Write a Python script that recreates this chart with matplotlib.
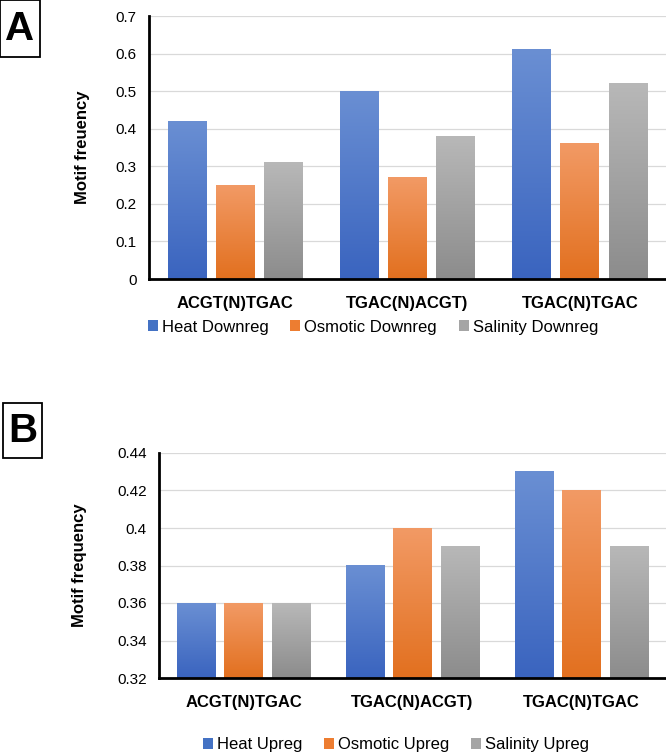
import matplotlib
matplotlib.use('Agg')
import matplotlib.pyplot as plt
from matplotlib.patches import Patch, Rectangle
from matplotlib.colors import LinearSegmentedColormap
from matplotlib.ticker import FuncFormatter
import numpy as np

plt.rcParams['font.family'] = ['Liberation Sans', 'DejaVu Sans']

# Daten
motifs = ['ACGT(N)TGAC', 'TGAC(N)ACGT)', 'TGAC(N)TGAC']
heat_down = [0.42, 0.50, 0.61]
osmotic_down = [0.25, 0.27, 0.36]
salinity_down = [0.31, 0.38, 0.52]
labels_down = ['Heat Downreg', 'Osmotic Downreg', 'Salinity Downreg']

heat_up = [0.36, 0.38, 0.43]
osmotic_up = [0.36, 0.40, 0.42]
salinity_up = [0.36, 0.39, 0.39]
labels_up = ['Heat Upreg', 'Osmotic Upreg', 'Salinity Upreg']

# Farben: (oben hell, unten dunkel), Legende
grad_cols = [('#6a8fd3', '#3a64bf'), ('#f29a65', '#e2701f'), ('#b8b8b8', '#8c8c8c')]
leg_cols = ['#4472c4', '#ed7d31', '#a5a5a5']

W, H = 666, 755
fig = plt.figure(figsize=(6.66, 7.55), dpi=100)


def gradient_bars(ax, x, vals, cols, ymin):
    bars = ax.bar(x, vals, width=0.225, color='none', edgecolor='none', zorder=2)
    cmap = LinearSegmentedColormap.from_list('g', [cols[1], cols[0]])
    grad = np.linspace(0, 1, 256).reshape(-1, 1)
    for b in bars:
        x0 = b.get_x()
        x1 = x0 + b.get_width()
        y1 = b.get_height()
        ax.imshow(grad, extent=[x0, x1, ymin, y1], origin='lower', aspect='auto',
                  cmap=cmap, zorder=2, clip_path=b, interpolation='bicubic')


def panel(rect, series, ylim, step, ylabel, lblx):
    ax = fig.add_axes(rect)
    x = np.arange(len(motifs))
    off = 0.28
    for i, (vals, cols) in enumerate(zip(series, grad_cols)):
        gradient_bars(ax, x + (i - 1) * off, vals, cols, ylim[0])
    ax.set_xlim(-0.5, 2.5)
    ax.set_ylim(*ylim)
    ax.set_yticks(np.arange(ylim[0], ylim[1] + step / 2, step))
    ax.yaxis.set_major_formatter(FuncFormatter(lambda v, p: '%g' % round(v, 3)))
    ax.set_xticks(x)
    ax.set_xticklabels(motifs, fontsize=12, fontweight='bold')
    ax.tick_params(axis='x', length=0, pad=12)
    ax.tick_params(axis='y', length=0, pad=9, labelsize=11)
    ax.grid(axis='y', color='#d9d9d9', lw=0.9)
    ax.set_axisbelow(True)
    for s in ['top', 'right']:
        ax.spines[s].set_visible(False)
    for s in ['left', 'bottom']:
        ax.spines[s].set_linewidth(2)
        ax.spines[s].set_color('black')
        ax.spines[s].set_zorder(3)
    ax.set_ylabel(ylabel, fontsize=12, fontweight='bold')
    ax.yaxis.set_label_coords(lblx, 0.5)
    return ax


ax1 = panel([149 / W, 1 - 279 / H, 517 / W, 263 / H],
            [heat_down, osmotic_down, salinity_down], (0, 0.7), 0.1,
            'Motif freuency', -0.115)
ax2 = panel([159 / W, 1 - 678 / H, 507 / W, 225 / H],
            [heat_up, osmotic_up, salinity_up], (0.32, 0.44), 0.02,
            'Motif frequency', -0.142)

for labs, xc, yc in [(labels_down, 0.56, 1 - 327 / H), (labels_up, 0.595, 1 - 745 / H)]:
    handles = [Patch(facecolor=c, edgecolor='none') for c in leg_cols]
    fig.legend(handles, labs, loc='center', bbox_to_anchor=(xc, yc), ncol=3,
               frameon=False, fontsize=12, handlelength=0.6, handleheight=0.6,
               handletextpad=0.25, columnspacing=1.3, borderpad=0)

# Panel-Buchstaben
for letter, x0, y0, bw, bh in [('A', 0, 0, 40, 57), ('B', 3, 403, 39, 55)]:
    fig.patches.append(Rectangle((x0 / W, 1 - (y0 + bh) / H), bw / W, bh / H,
                                 transform=fig.transFigure, fill=False,
                                 edgecolor='black', lw=1.3))
    fig.text((x0 + bw / 2) / W, 1 - (y0 + bh / 2) / H, letter, fontsize=29,
             fontweight='bold', ha='center', va='center')

fig.savefig('out.png', dpi=100)
